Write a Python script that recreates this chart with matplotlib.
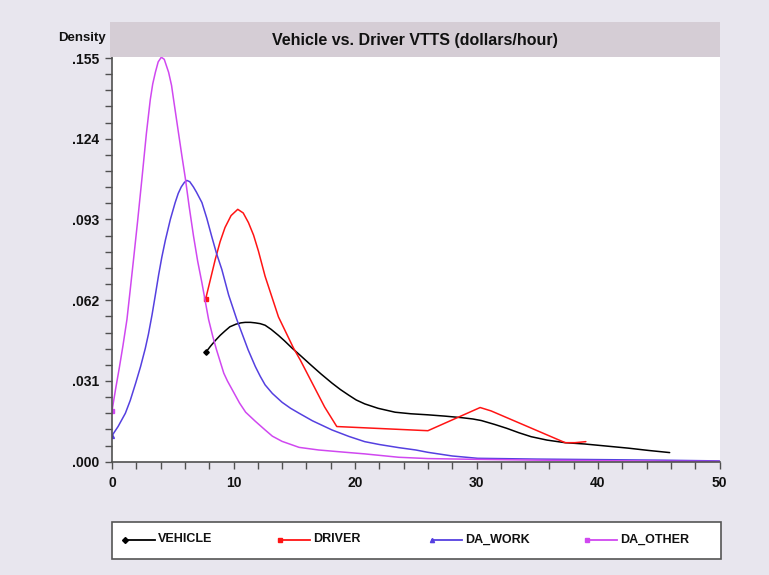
import matplotlib
matplotlib.use("Agg")
import matplotlib.pyplot as plt
from matplotlib.patches import Rectangle
from matplotlib.lines import Line2D
from matplotlib.ticker import MultipleLocator

plt.rcParams['font.family'] = ['Liberation Sans', 'DejaVu Sans']

# ---------------- data ----------------
vehicle_x = [7.72, 8.1, 8.5, 8.9, 9.3, 9.7, 10.2, 10.6, 10.96, 11.4, 11.8, 12.2,
             12.6, 13.1, 13.7, 14.2, 14.8, 15.5, 16.4, 17.2, 18.1, 18.8, 19.5,
             20.1, 20.8, 21.9, 23.3, 24.6, 26.0, 27.4, 28.8, 29.7, 30.4, 31.5,
             32.5, 33.5, 34.5, 35.8, 37.3, 38.9, 40.7, 42.5, 44.2, 45.9]
vehicle_y = [0.042, 0.0443, 0.0465, 0.0485, 0.0502, 0.0518, 0.0528, 0.0533, 0.0535,
             0.0535, 0.0533, 0.0530, 0.0524, 0.0508, 0.0485, 0.0464, 0.0437,
             0.0408, 0.037, 0.0337, 0.0302, 0.0277, 0.0255, 0.0237, 0.0222,
             0.0205, 0.019, 0.0184, 0.018, 0.0175, 0.0169, 0.0164, 0.0158,
             0.0143, 0.0128, 0.0111, 0.0096, 0.0083, 0.0073, 0.0068, 0.006,
             0.0052, 0.0043, 0.0035]

driver_x = [7.7, 8.1, 8.5, 8.9, 9.3, 9.8, 10.35, 10.8, 11.23, 11.65, 12.05, 12.6,
            13.7, 14.93, 15.5, 16.5, 17.5, 18.5, 26.0, 30.3, 31.2, 37.3, 38.1, 39.0]
driver_y = [0.0623, 0.070, 0.0777, 0.0845, 0.0899, 0.0945, 0.0969, 0.0955, 0.0918,
            0.087, 0.0809, 0.0712, 0.0556, 0.0437, 0.039, 0.030, 0.021, 0.0135,
            0.0119, 0.0208, 0.0195, 0.0073, 0.0073, 0.0077]

da_work_x = [0, 0.5, 1.1, 1.5, 1.95, 2.35, 2.74, 3.0, 3.3, 3.55, 3.84, 4.1, 4.39,
             4.8, 5.2, 5.45, 5.7, 5.95, 6.16, 6.4, 6.7, 6.95, 7.4, 7.8, 8.2, 8.6,
             9.04, 9.6, 10.27, 10.8, 11.2, 11.8, 12.2, 12.6, 13.2, 14.0, 14.7,
             15.4, 16.5, 18.1, 19.5, 20.8, 22.0, 23.6, 25.0, 26.0, 28.0, 30.1,
             35.0, 40.0, 45.0, 50.0]
da_work_y = [0.010, 0.0135, 0.0186, 0.0235, 0.0302, 0.0365, 0.0435, 0.049, 0.0565,
             0.0635, 0.0718, 0.0785, 0.085, 0.093, 0.0995, 0.103, 0.1055, 0.1072,
             0.108, 0.1075, 0.1055, 0.1035, 0.0995, 0.0935, 0.0866, 0.080, 0.0738,
             0.064, 0.0546, 0.048, 0.043, 0.0365, 0.0328, 0.0295, 0.0262, 0.0228,
             0.0205, 0.0186, 0.0157, 0.0122, 0.0097, 0.0077, 0.0066, 0.0054,
             0.0045, 0.0036, 0.0022, 0.0013, 0.0010, 0.0008, 0.0006, 0.0003]

da_other_x = [0, 0.3, 0.6, 0.9, 1.23, 1.5, 1.78, 2.1, 2.47, 2.83, 3.15, 3.35, 3.57,
              3.8, 4.06, 4.3, 4.66, 4.9, 5.07, 5.48, 5.75, 6.03, 6.35, 6.71, 7.05,
              7.4, 7.7, 7.95, 8.3, 8.6, 9.2, 9.5, 9.9, 10.5, 11.0, 11.8, 12.6,
              13.2, 14.0, 15.4, 17.0, 19.0, 20.8, 23.6, 26.0, 30.0, 35.0, 40.0,
              45.0, 50.0]
da_other_y = [0.0195, 0.028, 0.036, 0.0445, 0.0546, 0.066, 0.078, 0.092, 0.109,
              0.126, 0.139, 0.145, 0.1495, 0.1535, 0.1553, 0.1545, 0.1495, 0.1445,
              0.139, 0.126, 0.1175, 0.109, 0.098, 0.0866, 0.077, 0.0687, 0.061,
              0.0546, 0.048, 0.043, 0.034, 0.031, 0.0276, 0.0225, 0.019, 0.0155,
              0.0122, 0.0098, 0.0078, 0.0055, 0.0045, 0.0037, 0.003, 0.0017,
              0.0012, 0.0009, 0.0006, 0.0004, 0.0002, 0.0001]

series_names = ["VEHICLE", "DRIVER", "DA_WORK", "DA_OTHER"]
y_ticks = [0.000, 0.031, 0.062, 0.093, 0.124, 0.155]
y_tick_labels = [".000", ".031", ".062", ".093", ".124", ".155"]
x_ticks = [0, 10, 20, 30, 40, 50]
title = "Vehicle vs. Driver VTTS (dollars/hour)"
ylabel = "Density"

# ---------------- figure ----------------
W, H = 769, 575
fig = plt.figure(figsize=(W / 100, H / 100), dpi=100, facecolor='#e8e6ee')

def fx(px):
    return px / W

def fy(py):
    return 1 - py / H

ax_l, ax_r, ax_t, ax_b = 112, 719.5, 57, 461.7
ax = fig.add_axes([fx(ax_l), fy(ax_b), fx(ax_r - ax_l), (ax_b - ax_t) / H])
ax.set_facecolor('white')

colors = ['#000000', '#ff1414', '#5540e0', '#d048f0']
markers = ['D', 's', '^', 's']
data = [(vehicle_x, vehicle_y), (driver_x, driver_y),
        (da_work_x, da_work_y), (da_other_x, da_other_y)]
for (xs, ys), c, m, name in zip(data, colors, markers, series_names):
    ax.plot(xs, ys, color=c, lw=1.1, marker=m, markevery=[0], ms=2.8,
            label=name, solid_joinstyle='round', solid_capstyle='round')

ax.set_xlim(0, 50)
ax.set_ylim(0, 0.155 * (ax_b - ax_t) / (ax_b - 58))
ax.set_xticks(x_ticks)
ax.set_xticklabels([str(v) for v in x_ticks])
ax.set_yticks(y_ticks)
ax.set_yticklabels(y_tick_labels)
ax.xaxis.set_minor_locator(MultipleLocator(2))
ax.yaxis.set_minor_locator(MultipleLocator(0.0062))
for s in ['top', 'right']:
    ax.spines[s].set_visible(False)
for s in ['left', 'bottom']:
    ax.spines[s].set_color('#505050')
    ax.spines[s].set_linewidth(1.2)
ax.tick_params(which='both', direction='out', length=5, width=1, color='#505050')
ax.tick_params(axis='y', which='major', pad=4)
ax.tick_params(axis='x', which='major', pad=5)
for lab in ax.get_xticklabels() + ax.get_yticklabels():
    lab.set_fontweight('bold')
    lab.set_fontsize(10)
    lab.set_color('#111111')

# title band
fig.patches.append(Rectangle((fx(110), fy(57)), fx(720 - 110), 35 / H,
                             transform=fig.transFigure, facecolor='#d5cdd5',
                             edgecolor='none', zorder=0))
fig.text(fx(415), fy(40), title, ha='center', va='center',
         fontsize=11.5, fontweight='bold', color='#111111')
fig.text(fx(106), fy(38), ylabel, ha='right', va='center',
         fontsize=9.5, fontweight='bold', color='#111111')

# legend (drawn manually to match the reference layout)
fig.patches.append(Rectangle((fx(112), fy(559)), fx(721 - 112), (559 - 522) / H,
                             transform=fig.transFigure, facecolor='white',
                             edgecolor='#555555', lw=1.2, zorder=1))
ly = fy(539.5)
starts = [125, 280, 432, 587]
for x0, c, m, name in zip(starts, colors, markers, series_names):
    fig.add_artist(Line2D([fx(x0), fx(x0 + 30)], [ly, ly], color=c, lw=1.3,
                          marker=m, markevery=[0], ms=3, transform=fig.transFigure,
                          zorder=2))
    fig.text(fx(x0 + 33), ly, name, ha='left', va='center', fontsize=9,
             fontweight='bold', color='#111111', zorder=3)

fig.savefig('out.png', dpi=100, facecolor=fig.get_facecolor())
